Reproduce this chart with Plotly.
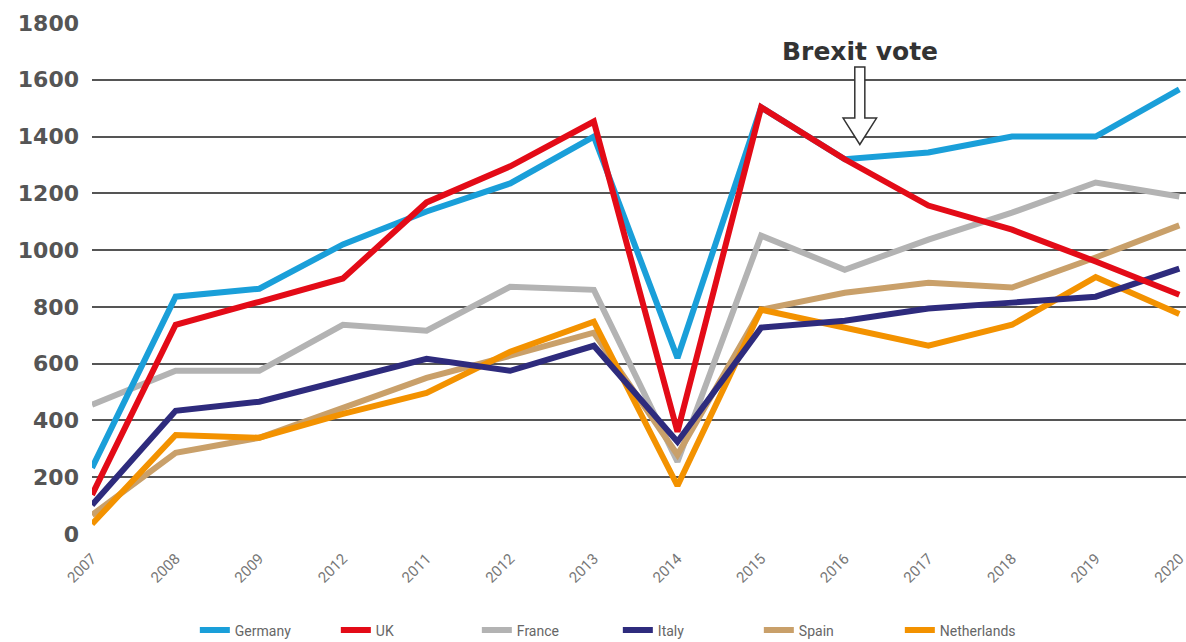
import plotly.graph_objects as go

years = ["2007", "2008", "2009", "2012", "2011", "2012", "2013", "2014",
         "2015", "2016", "2017", "2018", "2019", "2020"]

germany = [233, 836, 864, 1020, 1136, 1235, 1400, 620, 1503, 1320, 1344, 1400, 1400, 1566]
uk = [138, 737, 818, 900, 1168, 1295, 1453, 360, 1503, 1320, 1157, 1072, 960, 843]
france = [455, 575, 575, 737, 716, 871, 860, 255, 1051, 931, 1037, 1132, 1238, 1189]
italy = [102, 434, 466, 543, 617, 575, 663, 325, 727, 751, 794, 815, 836, 935]
spain = [67, 286, 339, 444, 550, 628, 709, 279, 790, 850, 885, 868, 974, 1087]
netherlands = [35, 349, 339, 423, 497, 642, 748, 170, 790, 727, 663, 737, 905, 775]

series = [
    ("France", france, "#b3b3b3", 3),
    ("Spain", spain, "#c9a06a", 5),
    ("Netherlands", netherlands, "#f39200", 6),
    ("Italy", italy, "#2e2b7d", 4),
    ("Germany", germany, "#1a9fd9", 1),
    ("UK", uk, "#e30b17", 2),
]

xs = list(range(len(years)))

fig = go.Figure()
for name, vals, color, rank in series:
    fig.add_trace(go.Scatter(
        x=xs, y=vals, name=name, mode="lines",
        line=dict(color=color, width=6),
        legendrank=rank, cliponaxis=False,
    ))

# Brexit arrow (hollow), drawn in data coordinates near 2016
ax = 9.18
hw_shaft = 0.06
hw_head = 0.2
path = (f"M {ax-hw_shaft},1645 L {ax+hw_shaft},1645 L {ax+hw_shaft},1465 "
        f"L {ax+hw_head},1465 L {ax},1372 L {ax-hw_head},1465 "
        f"L {ax-hw_shaft},1465 Z")
fig.add_shape(type="path", path=path, xref="x", yref="y",
              line=dict(color="#333333", width=1.5), fillcolor="white",
              layer="above")
fig.add_annotation(x=ax, y=1700, xref="x", yref="y", text="<b>Brexit vote</b>",
                   showarrow=False, font=dict(family="DejaVu Sans", size=25, color="#333333"),
                   xanchor="center", yanchor="middle")

fig.update_layout(
    width=1186, height=642,
    margin=dict(l=92, r=0, t=23, b=108),
    plot_bgcolor="white", paper_bgcolor="white",
    showlegend=True,
    legend=dict(orientation="h", x=0.094, xanchor="left",
                yref="container", y=0.018, yanchor="middle",
                entrywidth=96, entrywidthmode="pixels", traceorder="normal",
                font=dict(family="Roboto", size=14, color="#666666")),
    xaxis=dict(range=[0, 13.08], tickmode="array", tickvals=xs, ticktext=years,
               tickangle=-45, showgrid=False, zeroline=False, showline=False,
               ticklabelstandoff=12, ticklabeloverflow="allow", automargin=False,
               tickfont=dict(family="Roboto", size=15, color="#777777"), ticks=""),
    yaxis=dict(range=[0, 1800], tickvals=list(range(0, 1801, 200)),
               showgrid=True, gridcolor="#555555", gridwidth=2, zeroline=False,
               showline=False, ticks="", ticklabelstandoff=12, automargin=False,
               tickfont=dict(family="DejaVu Sans", size=22, color="#555555", weight="bold")),
)

fig.write_html("out.html")
